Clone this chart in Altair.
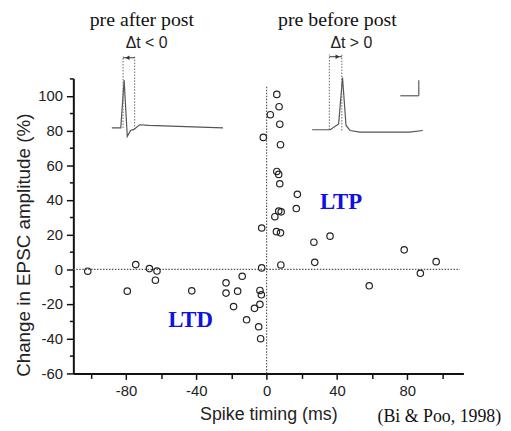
import altair as alt
import pandas as pd

# ---- scatter data (spike timing ms, % change in EPSC amplitude) ----
spike_timing = [-101.8, -74.5, -79.3, -66.7, -62.4, -63.3, -42.6, -23.1, -23.1, -16.5,
                -13.9, -18.8, -11.4, -6.9, -3.8, -3.8, -3.0, -4.5, -3.4, -2.8,
                5.8, 7.1, 2.1, 7.5, -1.9, 7.9, 5.8, 6.9, 7.5, 17.5,
                16.9, 6.9, 8.3, 4.7, -2.8, 5.6, 7.9, 36.1, 26.9, 78.3,
                27.4, 96.5, 8.1, 87.5, 58.4]
epsc_change = [-1.1, 2.7, -12.6, 0.4, -1.0, -6.3, -12.4, -7.8, -13.7, -12.6,
               -4.0, -21.5, -29.1, -22.5, -20.2, -12.2, -14.7, -33.1, -40.0, 0.8,
               100.8, 93.7, 89.1, 83.6, 76.0, 71.8, 56.4, 54.7, 49.3, 43.2,
               35.0, 33.6, 33.1, 30.3, 23.8, 21.7, 21.0, 19.1, 15.6, 11.2,
               4.0, 4.4, 2.5, -2.3, -9.5]

x_domain = [-110, 112]
y_domain = [-60, 110]
x_ticks = list(range(-100, 101, 20))
y_ticks = list(range(-60, 111, 10))

# ---- inset traces (drawn in the chart's data units) ----
trace_left_t = [-88.1, -83.0, -81.1, -79.3, -77.4, -75.5, -72.3, -67.0, -24.8]
trace_left_v = [81.5, 81.5, 109.0, 76.6, 80.0, 80.6, 83.3, 82.9, 81.5]
trace_right_t = [25.9, 36.2, 41.0, 43.2, 45.2, 47.5, 53.1, 81.3, 88.9]
trace_right_v = [80.4, 80.4, 83.8, 110.5, 82.9, 80.0, 79.0, 79.0, 80.0]

marker_x = [-81.7, -75.1, 35.7, 42.8]
marker_y = [81.5, 80.6, 80.4, 80.0]
marker_y2 = [122.9, 122.9, 123.8, 123.8]

arrow_x = [-81.7, 35.7]
arrow_x2 = [-75.1, 42.8]
arrow_y = [121.9, 122.5]
arrow_head_x = [-79.2, 40.4]
arrow_shape = ["triangle-left", "triangle-right"]

scalebar_x = [76.1, 86.6]
scalebar_x2 = [86.6, 86.6]
scalebar_y = [100.0, 100.0]
scalebar_y2 = [100.0, 109.0]

# ---- text annotations ----
header_text = ["pre after post", "pre before post"]
header_x = [-71.0, 40.3]
header_y = [140.0, 140.0]

delta_text = ["Δt < 0", "Δt > 0"]
delta_x = [-68.3, 48.2]
delta_y = [127.6, 127.6]

regime_text = ["LTP", "LTD"]
regime_x = [42.4, -43.3]
regime_y = [34.7, -33.3]

cite_text = ["(Bi & Poo, 1998)"]
cite_x = [63.1]
cite_y = [-88.0]

xs = alt.Scale(domain=x_domain, nice=False, zero=False)
ys = alt.Scale(domain=y_domain, nice=False, zero=False)

x_axis = alt.Axis(
    values=x_ticks,
    labelExpr="datum.value % 40 === 0 ? '' + datum.value : ''",
    labelFont="Liberation Sans", labelFontSize=15, labelColor="#222",
    labelPadding=4, labelOverlap=False, labelFlush=False,
    tickSize={"condition": {"test": "datum.value % 40 === 0", "value": 6}, "value": 5},
    tickWidth=1.5, tickColor="#111",
    domainColor="#111", domainWidth=2, grid=False,
    title="Spike timing (ms)", titleFont="Liberation Sans", titleFontSize=18,
    titleFontWeight="normal", titleColor="#222",
    titleX=197, titleY=47, titleBaseline="alphabetic", titleAlign="center",
)
y_axis = alt.Axis(
    values=y_ticks,
    labelExpr="datum.value % 20 === 0 ? '' + datum.value : ''",
    labelFont="Liberation Sans", labelFontSize=15, labelColor="#222",
    labelPadding=4, labelOverlap=False, labelFlush=False,
    tickSize={"condition": {"test": "datum.value % 20 === 0", "value": 7}, "value": 4},
    tickWidth=1.5, tickColor="#111",
    domainColor="#111", domainWidth=2, grid=False,
    title="Change in EPSC amplitude (%)", titleFont="Liberation Sans", titleFontSize=19,
    titleFontWeight="normal", titleColor="#222", titleAngle=270,
    titleX=-44, titleY=168, titleBaseline="alphabetic", titleAlign="center",
)

X = lambda f="x:Q": alt.X(f, scale=xs, axis=x_axis)
Y = lambda f="y:Q": alt.Y(f, scale=ys, axis=y_axis)

pts_df = pd.DataFrame({"x": spike_timing, "y": epsc_change})
points = alt.Chart(pts_df).mark_point(
    shape="circle", filled=False, size=42, strokeWidth=1.2, color="#222", opacity=1
).encode(x=X(), y=Y())

zero_df = pd.DataFrame({"x": [-110, 0], "x2": [110, 0], "y": [0, -60], "y2": [0, 106]})
zero_lines = alt.Chart(zero_df).mark_rule(
    color="#555", strokeWidth=1.2, strokeDash=[1.5, 1.5]
).encode(x=X(), x2="x2:Q", y=Y(), y2="y2:Q")

trace_df = pd.DataFrame({
    "x": trace_left_t + trace_right_t,
    "y": trace_left_v + trace_right_v,
    "trace": ["left"] * len(trace_left_t) + ["right"] * len(trace_right_t),
    "i": list(range(len(trace_left_t))) + list(range(len(trace_right_t))),
})
traces = alt.Chart(trace_df).mark_line(color="#555", strokeWidth=1.2).encode(
    x=X(), y=Y(), detail="trace:N", order="i:Q",
)

marker_df = pd.DataFrame({"x": marker_x, "y": marker_y, "y2": marker_y2})
markers = alt.Chart(marker_df).mark_rule(
    color="#666", strokeWidth=1, strokeDash=[1.5, 1.5]
).encode(x=X(), y=Y(), y2="y2:Q")

arrow_df = pd.DataFrame({"x": arrow_x, "x2": arrow_x2, "y": arrow_y})
arrows = alt.Chart(arrow_df).mark_rule(color="#333", strokeWidth=1).encode(
    x=X(), x2="x2:Q", y=Y()
)
head_df = pd.DataFrame({"x": arrow_head_x, "y": arrow_y, "shape": arrow_shape})
heads = alt.Chart(head_df).mark_point(filled=True, size=22, color="#333", opacity=1).encode(
    x=X(), y=Y(), shape=alt.Shape("shape:N", scale=None, legend=None),
)

bar_df = pd.DataFrame({"x": scalebar_x, "x2": scalebar_x2, "y": scalebar_y, "y2": scalebar_y2})
scalebar = alt.Chart(bar_df).mark_rule(color="#666", strokeWidth=1.3).encode(
    x=X(), x2="x2:Q", y=Y(), y2="y2:Q"
)

def text_layer(texts, xv, yv, **kw):
    df = pd.DataFrame({"x": xv, "y": yv, "t": texts})
    return alt.Chart(df).mark_text(baseline="alphabetic", **kw).encode(
        x=X(), y=Y(), text="t:N"
    )

headers = text_layer(header_text, header_x, header_y, font="Liberation Serif",
                     fontSize=20, color="#111", align="center")
deltas = text_layer(delta_text, delta_x, delta_y, font="Liberation Sans",
                    fontSize=16, color="#222", align="center")
regimes = text_layer(regime_text, regime_x, regime_y, font="Liberation Serif",
                     fontSize=23, fontWeight="bold", color="#1010e6", align="center")
cite = text_layer(cite_text, cite_x, cite_y, font="Liberation Serif",
                  fontSize=18, color="#111", align="left")

chart = alt.layer(
    zero_lines, traces, markers, arrows, heads, scalebar, points,
    headers, deltas, regimes, cite,
).properties(
    width=394, height=298,
    autosize=alt.AutoSizeParams(type="none"),
    padding={"left": 66, "top": 69, "right": 40, "bottom": 53},
    background="white",
).configure_view(strokeWidth=0).configure_axis(labelOverlap=False)

chart.save("out.html", embed_options={"renderer": "svg", "actions": False})
